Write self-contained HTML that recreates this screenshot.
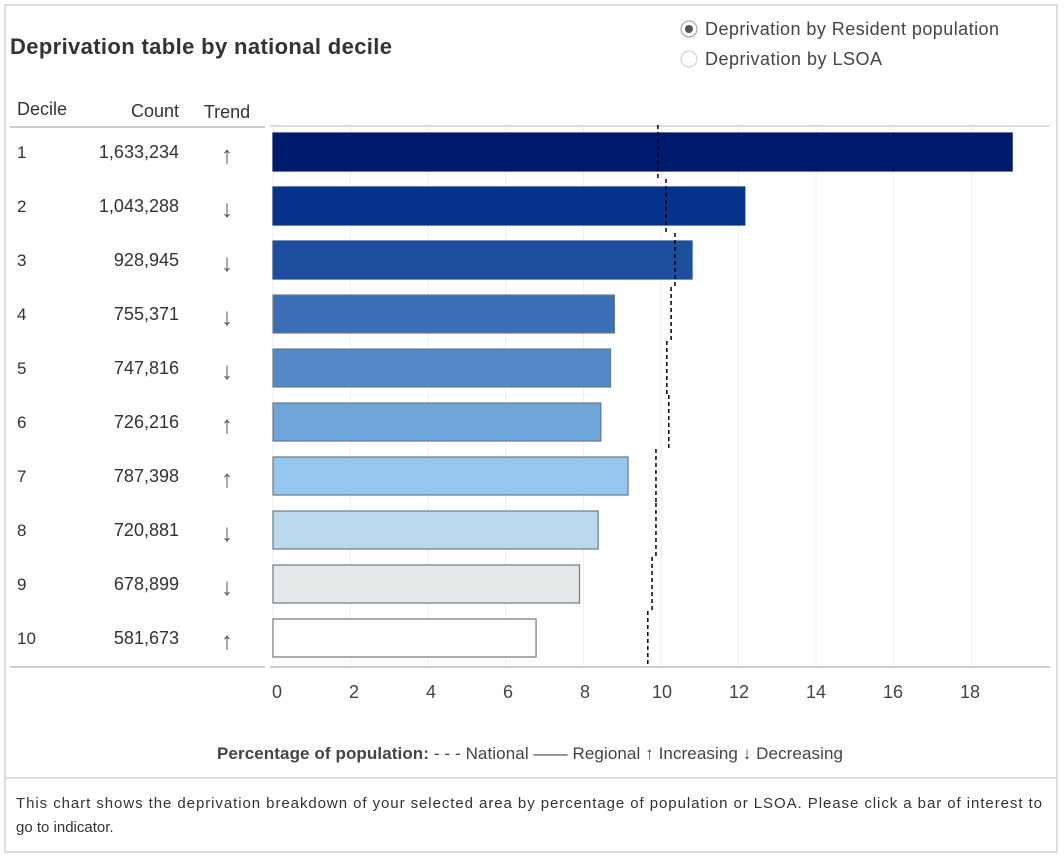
<!DOCTYPE html>
<html><head><meta charset="utf-8"><style>
body{margin:0;width:1064px;height:858px;background:#fff;font-family:"Liberation Sans",sans-serif;color:#333;overflow:hidden}
svg text{font-family:"Liberation Sans",sans-serif}
</style></head><body>
<svg width="1064" height="858">
<rect x="5" y="5" width="1052" height="847" fill="#fff" stroke="#ddd" stroke-width="2"/>
<text x="10" y="54" font-size="22" font-weight="bold" fill="#333" textLength="382">Deprivation table by national decile</text>
<g><circle cx="689" cy="29" r="8" fill="#fff" stroke="#999"/><circle cx="689" cy="29" r="4" fill="#555"/><text x="705" y="35" font-size="18" fill="#444" textLength="294">Deprivation by Resident population</text></g>
<g><circle cx="689" cy="59" r="8" fill="#fff" stroke="#ccc"/><text x="705" y="65" font-size="18" fill="#444" textLength="177">Deprivation by LSOA</text></g>
<text x="17" y="115" font-size="18" fill="#333">Decile</text>
<text x="179" y="117" font-size="18" fill="#333" text-anchor="end">Count</text>
<text x="227" y="118" font-size="18" fill="#333" text-anchor="middle">Trend</text>
<line x1="10" y1="127" x2="265" y2="127" stroke="#ccc" stroke-width="2"/>
<line x1="270" y1="126" x2="1050" y2="126" stroke="#ddd" stroke-width="2"/>
<g id="grid"></g><g id="rows"></g><g id="bars"></g><g id="nat"></g><g id="ticks"></g>
<line x1="10" y1="667" x2="265" y2="667" stroke="#ccc" stroke-width="2"/>
<line x1="270" y1="667" x2="1050" y2="667" stroke="#ccc" stroke-width="2"/>
<text x="217" y="759" font-size="17" fill="#444" textLength="626"><tspan font-weight="bold">Percentage of population:</tspan> - - - National  —— Regional ↑ Increasing  ↓ Decreasing</text>
<line x1="5" y1="778" x2="1057" y2="778" stroke="#ddd" stroke-width="2"/>
<text x="16" y="808" font-size="15" fill="#333" textLength="1026">This chart shows the deprivation breakdown of your selected area by percentage of population or LSOA. Please click a bar of interest to</text>
<text x="16" y="832" font-size="15" fill="#333">go to indicator.</text>
</svg>
<script>
const deciles=["1","2","3","4","5","6","7","8","9","10"];
const counts=["1,633,234","1,043,288","928,945","755,371","747,816","726,216","787,398","720,881","678,899","581,673"];
const trends=["up","down","down","down","down","up","up","down","down","up"];
const values=[19.05,12.16,10.8,8.8,8.7,8.45,9.15,8.38,7.9,6.78];
const national=[9.92,10.13,10.36,10.26,10.15,10.2,9.87,9.87,9.77,9.66];
const ticks=[0,2,4,6,8,10,12,14,16,18];
const colors=["#001a6e","#06338c","#1e4f9e","#3a6fb6","#5289c6","#6fa6da","#96c7ee","#bcd8ec","#e4eaea","#ffffff"];
const NS="http://www.w3.org/2000/svg";
const x=v=>273+v*38.8, y=i=>152+i*54;
function mk(t,a,p){const e=document.createElementNS(NS,t);for(const k in a)e.setAttribute(k,a[k]);document.getElementById(p).appendChild(e);return e;}
ticks.forEach(t=>{
 const g=mk("line",{x1:x(t),x2:x(t),y1:127,y2:666,stroke:"#eee"},"grid");
 
 
 const l=mk("text",{x:x(t)+4-t*0.3,y:698,"font-size":18,fill:"#444","text-anchor":"middle"},"ticks");
 l.textContent=t;
 
 
});
deciles.forEach((d,i)=>{
 const cy=y(i);
 const a=mk("text",{x:17,y:cy+6,"font-size":17,fill:"#333"},"rows");a.textContent=d;
 
 
 const c=mk("text",{x:179,y:cy+6,"font-size":18,fill:"#333","text-anchor":"end"},"rows");c.textContent=counts[i];
 
 
 const t=mk("text",{x:227,y:cy+11,"font-size":24,fill:"#555","text-anchor":"middle"},"rows");t.textContent=trends[i]=="up"?"↑":"↓";
 
 
 const b=mk("rect",{x:x(0),y:cy-19,width:x(values[i])-x(0),height:38,fill:colors[i],stroke:i<3?colors[i]:"#6a7a8a","stroke-width":1.2},"bars");
 
 
 const n=mk("line",{x1:x(national[i]),x2:x(national[i]),y1:cy-27,y2:cy+27,stroke:"#000","stroke-width":1.5,"stroke-dasharray":"4,3"},"nat");
 
 
});
</script>
</body></html>
